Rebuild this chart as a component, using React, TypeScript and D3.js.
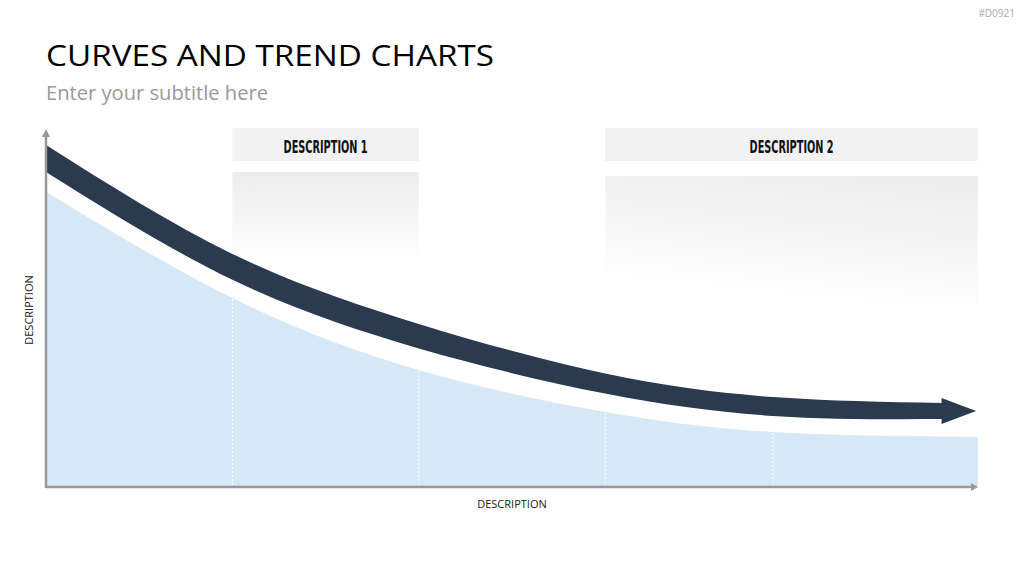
import React from "react"
import * as d3 from "d3"

// segment positions along the x axis (dashed guides at 1..4)
const stops = [0, 1, 2, 3, 3.9, 5]
const areaValues = [84.3, 54, 33.4, 21.4, 15.7, 14.3]

// dark trend band: top and bottom edge, ends where the arrow head starts
const bandX = [0, 1, 2, 3, 3.9, 4.81]
const bandTop = [97.7, 66.6, 46.6, 32.4, 25.7, 24]
const bandBottom = [90, 59.2, 39.6, 26.7, 20.3, 19.4]
const arrowTip = { x: 4.99, y: 21.7 }

const guides = [1, 2, 3, 3.9]
const boxes = [
  { label: "DESCRIPTION 1", from: 1, to: 2 },
  { label: "DESCRIPTION 2", from: 3, to: 5 },
]

const width = 1024
const height = 576

export default function App() {
  const ref = React.useRef<SVGSVGElement>(null)

  React.useEffect(() => {
    const svg = d3.select(ref.current)
    svg.selectAll("*").remove()

    const x = d3.scaleLinear().domain([0, 5]).range([46, 978])
    const y = d3.scaleLinear().domain([0, 100]).range([487, 137])

    const defs = svg.append("defs")
    const g1 = defs.append("linearGradient").attr("id", "fade1")
      .attr("x1", 0).attr("y1", 0).attr("x2", 0).attr("y2", 1)
    g1.append("stop").attr("offset", 0).attr("stop-color", "#ececec")
    g1.append("stop").attr("offset", 1).attr("stop-color", "#ffffff")
    const g2 = defs.append("linearGradient").attr("id", "fade2")
      .attr("x1", 0.9).attr("y1", 0).attr("x2", 0.6).attr("y2", 1)
    g2.append("stop").attr("offset", 0).attr("stop-color", "#ececec")
    g2.append("stop").attr("offset", 1).attr("stop-color", "#ffffff")

    // titles
    svg.append("text").attr("x", 1015).attr("y", 17).attr("text-anchor", "end")
      .attr("font-family", "Open Sans").attr("font-size", 10).attr("fill", "#aaa")
      .text("#D0921")
    svg.append("text").attr("x", 46).attr("y", 66)
      .attr("font-family", "Open Sans").attr("font-size", 30).attr("fill", "#000")
      .attr("textLength", 448).attr("lengthAdjust", "spacingAndGlyphs")
      .text("CURVES AND TREND CHARTS")
    svg.append("text").attr("x", 46).attr("y", 100)
      .attr("font-family", "Open Sans").attr("font-size", 20).attr("fill", "#999")
      .attr("textLength", 222).attr("lengthAdjust", "spacingAndGlyphs")
      .text("Enter your subtitle here")

    // description boxes
    boxes.forEach((b, i) => {
      svg.append("rect").attr("x", x(b.from)).attr("y", 128)
        .attr("width", x(b.to) - x(b.from)).attr("height", 33).attr("fill", "#f2f2f2")
      svg.append("text").attr("x", (x(b.from) + x(b.to)) / 2).attr("y", 153)
        .attr("text-anchor", "middle").attr("font-family", "DejaVu Sans Condensed, DejaVu Sans")
        .attr("font-weight", "bold").attr("font-size", 18).attr("fill", "#111")
        .attr("textLength", 84).attr("lengthAdjust", "spacingAndGlyphs")
        .text(b.label)
      svg.append("rect").attr("x", x(b.from)).attr("y", i === 0 ? 172 : 176)
        .attr("width", x(b.to) - x(b.from)).attr("height", i === 0 ? 90 : 128)
        .attr("fill", `url(#fade${i + 1})`)
    })

    // area
    const area = d3.area<number>()
      .curve(d3.curveNatural)
      .x((d, i) => x(stops[i]))
      .y0(y(0))
      .y1((d) => y(d))
    svg.append("path").datum(areaValues).attr("d", area).attr("fill", "#d6e8f6")

    // dashed guides, from the area's top edge down to the axis
    const areaLine = d3.line<number>().curve(d3.curveNatural)
      .x((d, i) => x(stops[i])).y((d) => y(d))
    const tmp = svg.append("path").datum(areaValues).attr("d", areaLine)
      .attr("fill", "none").attr("stroke", "none")
    const node = tmp.node() as SVGPathElement
    const total = node.getTotalLength()
    const yOnArea = (px: number) => {
      let lo = 0, hi = total
      for (let k = 0; k < 30; k++) {
        const mid = (lo + hi) / 2
        if (node.getPointAtLength(mid).x < px) lo = mid
        else hi = mid
      }
      return node.getPointAtLength(lo).y
    }
    guides.forEach((gx) => {
      svg.append("line").attr("x1", x(gx)).attr("x2", x(gx))
        .attr("y1", yOnArea(x(gx)) + 1).attr("y2", y(0))
        .attr("stroke", "#fff").attr("stroke-width", 1.2).attr("stroke-dasharray", "2,2")
    })
    tmp.remove()

    // trend band + arrow head
    const band = d3.area<number>()
      .curve(d3.curveNatural)
      .x((d, i) => x(bandX[i]))
      .y0((d, i) => y(bandBottom[i]))
      .y1((d) => y(d))
    svg.append("path").datum(bandTop).attr("d", band).attr("fill", "#2b3a4e")
    const hx = x(bandX[bandX.length - 1]) - 1
    const ty = y(arrowTip.y)
    svg.append("path")
      .attr("d", `M${hx},${ty - 13}L${x(arrowTip.x)},${ty}L${hx},${ty + 13}Z`)
      .attr("fill", "#2b3a4e")

    // axes
    const axisColor = "#999"
    svg.append("line").attr("x1", x(0)).attr("x2", x(0)).attr("y1", y(0) + 1).attr("y2", 136)
      .attr("stroke", axisColor).attr("stroke-width", 2.5)
    svg.append("path").attr("d", `M${x(0) - 4},137L${x(0)},129L${x(0) + 4},137Z`).attr("fill", axisColor)
    svg.append("line").attr("x1", x(0)).attr("x2", x(5) - 6).attr("y1", y(0)).attr("y2", y(0))
      .attr("stroke", axisColor).attr("stroke-width", 2.5)
    svg.append("path").attr("d", `M${x(5) - 7},${y(0) - 4}L${x(5)},${y(0)}L${x(5) - 7},${y(0) + 4}Z`)
      .attr("fill", axisColor)

    svg.append("text").attr("x", (x(0) + x(5)) / 2).attr("y", 508).attr("text-anchor", "middle")
      .attr("font-family", "Open Sans").attr("font-size", 11).attr("fill", "#222")
      .text("DESCRIPTION")
    svg.append("text").attr("transform", `translate(33,310) rotate(-90)`).attr("text-anchor", "middle")
      .attr("font-family", "Open Sans").attr("font-size", 11).attr("fill", "#222")
      .text("DESCRIPTION")
  }, [])

  return (
    <svg ref={ref} width={width} height={height}
      style={{ position: "absolute", left: 0, top: 0, background: "#fff" }} />
  )
}
